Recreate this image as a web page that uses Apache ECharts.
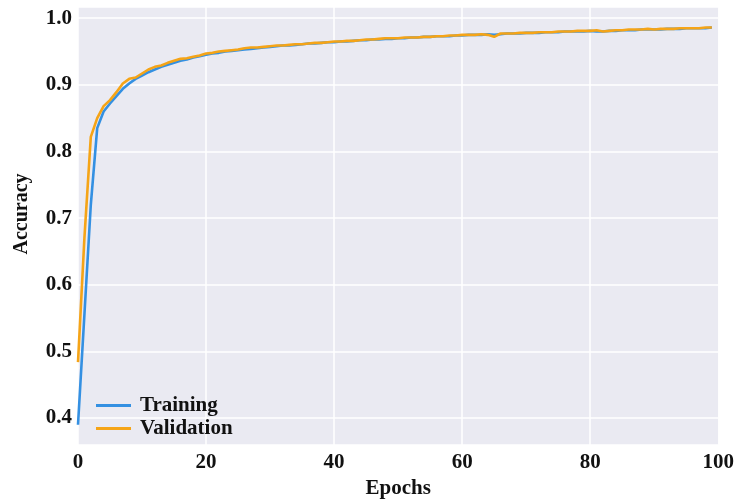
<!DOCTYPE html>
<html>
<head>
<meta charset="utf-8">
<script src="https://cdn.jsdelivr.net/npm/echarts@6/dist/echarts.min.js"></script>
<style>
html,body{margin:0;padding:0;background:#fff;}
#c{width:737px;height:504px;}
</style>
</head>
<body>
<div id="c"></div>
<script>
const epochs = Array.from({length: 100}, (_, i) => i);
const training = [
0.390,0.555,0.720,0.835,0.860,0.872,0.883,0.894,0.902,0.909,
0.914,0.919,0.923,0.927,0.930,0.933,0.936,0.938,0.941,0.943,
0.945,0.947,0.948,0.950,0.951,0.952,0.953,0.954,0.955,0.956,
0.957,0.958,0.959,0.959,0.960,0.961,0.962,0.962,0.963,0.964,
0.964,0.965,0.965,0.966,0.967,0.967,0.968,0.968,0.969,0.969,
0.970,0.970,0.971,0.971,0.972,0.972,0.973,0.973,0.973,0.974,
0.974,0.975,0.975,0.975,0.976,0.975,0.976,0.977,0.977,0.977,
0.978,0.978,0.978,0.979,0.979,0.979,0.980,0.980,0.980,0.980,
0.981,0.980,0.980,0.981,0.981,0.982,0.982,0.982,0.983,0.983,
0.983,0.983,0.984,0.984,0.984,0.985,0.985,0.985,0.985,0.986
];
const validation = [
0.484,0.670,0.822,0.850,0.868,0.877,0.889,0.902,0.909,0.911,
0.917,0.923,0.927,0.929,0.933,0.936,0.939,0.940,0.942,0.944,
0.947,0.948,0.950,0.951,0.952,0.953,0.955,0.956,0.956,0.957,
0.958,0.959,0.959,0.960,0.961,0.961,0.962,0.963,0.963,0.964,
0.965,0.965,0.966,0.966,0.967,0.968,0.968,0.969,0.970,0.970,
0.970,0.971,0.971,0.971,0.972,0.972,0.973,0.973,0.974,0.974,
0.975,0.975,0.975,0.976,0.975,0.972,0.977,0.977,0.977,0.978,
0.978,0.978,0.979,0.979,0.979,0.980,0.980,0.980,0.981,0.981,
0.981,0.982,0.980,0.981,0.982,0.982,0.983,0.983,0.983,0.984,
0.983,0.984,0.984,0.984,0.985,0.985,0.985,0.985,0.986,0.986
];
const seriesNames = ['Training', 'Validation'];
const xTitle = 'Epochs';
const yTitle = 'Accuracy';

const FONT = '"Liberation Serif", "Times New Roman", serif';
const chart = echarts.init(document.getElementById('c'), null, {renderer: 'canvas'});
chart.setOption({
  animation: false,
  backgroundColor: '#ffffff',
  grid: {left: 78, right: 18, top: 7, bottom: 55, show: true, backgroundColor: '#EAEAF2', borderWidth: 0},
  legend: {
    orient: 'vertical', left: 91, top: 390,
    icon: 'rect', itemWidth: 35, itemHeight: 3, itemGap: 2,
    data: seriesNames,
    textStyle: {fontFamily: FONT, fontWeight: 'bold', fontSize: 21, color: '#111', lineHeight: 20, padding: [0,0,0,4]}
  },
  xAxis: {
    type: 'value', min: 0, max: 100, interval: 20,
    name: xTitle, nameLocation: 'middle', nameGap: 28,
    nameTextStyle: {fontFamily: FONT, fontWeight: 'bold', fontSize: 21, color: '#111'},
    axisLine: {show: false}, axisTick: {show: false},
    axisLabel: {fontFamily: FONT, fontWeight: 'bold', fontSize: 21, color: '#111', margin: 7},
    splitLine: {show: true, lineStyle: {color: '#ffffff', width: 1.5}}
  },
  yAxis: {
    type: 'value', min: 0.3594, max: 1.0168, splitNumber: 5,
    axisLine: {show: false}, axisTick: {show: false},
    axisLabel: {fontFamily: FONT, fontWeight: 'bold', fontSize: 21, color: '#111', margin: 6,
      showMinLabel: false, showMaxLabel: false,
      formatter: v => v.toFixed(1)},
    splitLine: {show: true, lineStyle: {color: '#ffffff', width: 1.5}}
  },
  graphic: [{
    type: 'text', x: 22, y: 214, rotation: Math.PI / 2,
    style: {text: yTitle, font: 'bold 20px ' + FONT, fill: '#111', textAlign: 'center', textVerticalAlign: 'middle'}
  }],
  series: [
    {name: seriesNames[0], type: 'line', showSymbol: false, symbol: 'none',
     data: epochs.map((e, i) => [e, training[i]]),
     lineStyle: {color: '#3490e2', width: 2.6}, itemStyle: {color: '#3490e2'}},
    {name: seriesNames[1], type: 'line', showSymbol: false, symbol: 'none',
     data: epochs.map((e, i) => [e, validation[i]]),
     lineStyle: {color: '#f5a417', width: 2.6}, itemStyle: {color: '#f5a417'}}
  ]
});
</script>
</body>
</html>
